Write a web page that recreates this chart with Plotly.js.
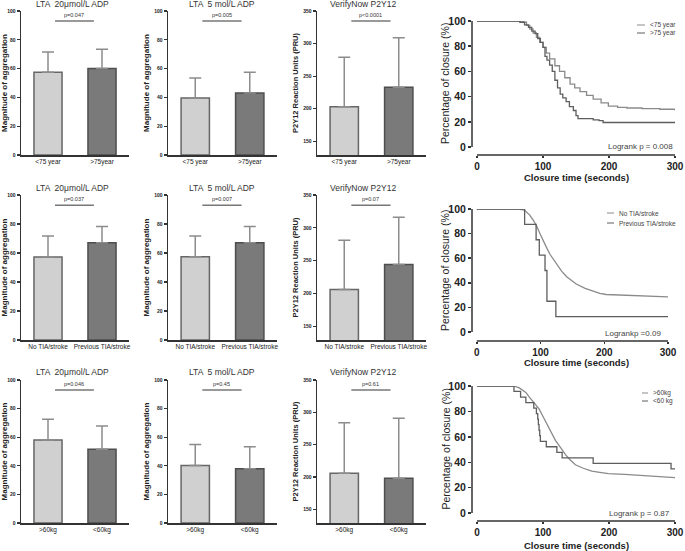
<!DOCTYPE html>
<html>
<head>
<meta charset="utf-8">
<script src="https://cdn.plot.ly/plotly-3.0.1.min.js"></script>
<style>body{margin:0;background:#fff}#fig{width:685px;height:551px}</style>
</head>
<body>
<div id="fig"></div>
<script>
// groups for each row of the figure
var ageGroups = ['<75 year', '>75year'];
var tiaGroups = ['No TIA/stroke', 'Previous TIA/stroke'];
var weightGroups = ['>60kg', '<60kg'];

var panelTitles = ['LTA  20\u03bcmol/L ADP', 'LTA  5 mol/L ADP', 'VerifyNow P2Y12'];

// mean and SD (upper whisker) per row
var lta20Mean = [[57.5, 60.0], [57.3, 67.0], [58.1, 51.6]];
var lta20Sd = [[14.0, 13.5], [14.4, 11.2], [14.5, 16.3]];
var lta5Mean = [[39.5, 43.0], [57.5, 67.1], [40.2, 37.9]];
var lta5Sd = [[14.0, 14.5], [14.2, 11.1], [14.7, 15.4]];
var pruMean = [[203, 233], [206, 244], [206, 198]];
var pruSd = [[76, 76], [75, 72], [78, 93]];

var pValues = [
    ['p=0.047', 'p=0.005', 'p<0.0001'],
    ['p=0.037', 'p=0.007', 'p=0.07'],
    ['p=0.046', 'p=0.45', 'p=0.61']
];

// Kaplan-Meier curves, closure time (s) vs percentage
var ageYoungT = [0, 65, 70, 75, 80, 85, 90, 95, 100, 105, 110, 118, 125, 133, 141, 148, 156, 166, 176, 188, 199, 213, 227, 250, 277, 300];
var ageYoungY = [100, 100, 99, 96.5, 93.5, 90.5, 87, 83, 79, 74.5, 70, 64.5, 60, 55, 50, 47, 44, 41, 38, 35, 32.5, 31.5, 31, 30.5, 30, 29];
var ageOldT = [0, 65, 72, 78, 83, 88, 92, 96, 100, 103, 106, 110, 114, 118, 122, 126, 130, 135, 140, 146, 150, 153, 170, 176, 185, 191, 300];
var ageOldY = [100, 99, 97, 95, 92, 90, 86, 83, 79, 72, 69, 65, 60, 53, 47, 42, 39, 36, 32, 29, 25, 22.5, 22.5, 21.5, 21, 19.5, 19.5];

var noTiaT = [0, 65, 75, 83, 89, 94, 99, 104, 110, 115, 120, 125, 133, 141, 148, 156, 170, 183, 193, 203, 235, 266, 300];
var noTiaY = [100, 100, 99, 95, 90.5, 86, 80, 74, 68, 63, 59, 55, 49.5, 45, 42, 39, 35.5, 33, 31.5, 30.5, 30, 29, 28.5];
var prevTiaT = [0, 75, 93, 98, 107, 110, 124, 300];
var prevTiaY = [100, 87.5, 75, 62.5, 50, 25, 12.5, 12.5];

var heavyT = [0, 56, 64, 74, 79, 84, 89, 94, 99, 104, 109, 114, 119, 124, 134, 141, 149, 160, 174, 186, 199, 224, 249, 275, 300];
var heavyY = [100, 100, 98.5, 95, 91.5, 88, 85, 82, 77, 72, 66.5, 61, 57, 53.5, 46, 42, 38, 35.5, 33, 32, 31, 30.5, 29.7, 29, 28];
var lightT = [0, 56, 66, 74, 86, 90, 92, 93, 94, 95, 96, 105, 121, 129, 176, 294, 300];
var lightY = [100, 95.7, 91.3, 87, 82.6, 78.3, 73.9, 69.6, 65.2, 60.9, 56.5, 52.2, 47.8, 43.5, 39.1, 34.8, 34.8];

var kmNames = [['<75 year', '>75 year'], ['No TIA/stroke', 'Previous TIA/stroke'], ['>60kg', '<60 kg']];
var kmLogrank = ['Logrank p = 0.008', 'Logrankp =0.09', 'Logrank p = 0.87'];

var W = 685, H = 551;
function px(x) { return x / W; }
function py(y) { return 1 - y / H; }

var groups = [ageGroups, tiaGroups, weightGroups];
var means = [lta20Mean, lta5Mean, pruMean];
var sds = [lta20Sd, lta5Sd, pruSd];
var kmT = [[ageYoungT, ageOldT], [noTiaT, prevTiaT], [heavyT, lightT]];
var kmY = [[ageYoungY, ageOldY], [noTiaY, prevTiaY], [heavyY, lightY]];

// pixel layout
var colX = [[21, 129], [168, 277], [317, 426]];
var rowY = [[11, 155], [195, 340], [380, 523]];
var kmX = [[472, 675], [472, 668], [472, 675]];
var kmYpx = [[21, 155], [209, 341], [386, 521]];
var kmYmin = [-6.3, -7.3, -6.2];
var kmXtitleY = [177, 362, 545];
var titleY = [4, 188, 372];
var titleX = [72, 222, 363];
var legendPos = [[637, 645, 648, 25, 33], [607, 614, 617, 213, 223], [642, 648, 651, 393, 401]];
var logrankPos = [[675, 147], [663, 333], [672, 513]];

var data = [];
var layout = {
    width: W, height: H,
    margin: {l: 0, r: 0, t: 0, b: 0},
    paper_bgcolor: '#fff',
    plot_bgcolor: 'rgba(0,0,0,0)',
    showlegend: false,
    font: {family: 'Liberation Sans, Arial, sans-serif', color: '#222'},
    annotations: [],
    shapes: []
};

for (var r = 0; r < 3; r++) {
    for (var c = 0; c < 4; c++) {
        var i = r * 4 + c + 1;
        var xn = 'x' + (i == 1 ? '' : i), yn = 'y' + (i == 1 ? '' : i);
        var xk = 'xaxis' + (i == 1 ? '' : i), yk = 'yaxis' + (i == 1 ? '' : i);
        if (c < 3) {
            data.push({
                type: 'bar', x: groups[r], y: means[c][r], xaxis: xn, yaxis: yn,
                width: 0.52,
                marker: {color: ['#d0d0d0', '#7a7a7a'], line: {color: ['#666', '#4e4e4e'], width: 1.5}},
                error_y: {type: 'data', symmetric: false, array: sds[c][r], arrayminus: [0, 0],
                          color: '#8c8c8c', thickness: 1.5, width: 6}
            });
            layout[xk] = {
                domain: [px(colX[c][0]), px(colX[c][1])], range: [-0.5, 1.5], anchor: yn,
                showline: true, linecolor: '#333', linewidth: 1.5, ticks: '',
                tickfont: {size: 6.5, color: '#222'}, showgrid: false, zeroline: false
            };
            var pru = (c == 2);
            layout[yk] = {
                domain: [py(rowY[r][1]), py(rowY[r][0])], anchor: xn,
                range: pru ? [129, 350] : [0, 100],
                tickvals: pru ? [150, 200, 250, 300, 350] : [0, 20, 40, 60, 80, 100],
                ticks: 'outside', ticklen: 3, tickwidth: 1.2, tickcolor: '#333',
                showline: true, linecolor: '#333', linewidth: 1.5,
                showgrid: false, zeroline: false,
                tickfont: {size: 5, weight: 'bold', color: '#222'},
                title: {text: pru ? 'P2Y12 Reaction Units (PRU)' : 'Magnitude of aggregation',
                        font: {size: pru ? 7.5 : 8, weight: 'bold', color: '#222'}, standoff: 3}
            };
            layout.annotations.push({
                xref: 'paper', yref: 'paper', x: px(titleX[c]), y: py(titleY[r]),
                text: panelTitles[c], showarrow: false, xanchor: 'center', yanchor: 'middle',
                font: {size: 8.5, color: '#333'}
            });
            layout.shapes.push({
                type: 'line', xref: xn + ' domain', yref: yn + ' domain',
                x0: 0.315, x1: 0.675, y0: 0.93, y1: 0.93,
                line: {color: '#777', width: 1.5}
            });
            layout.annotations.push({
                xref: xn + ' domain', yref: yn + ' domain', x: 0.495, y: 0.975,
                text: pValues[r][c], showarrow: false, xanchor: 'center', yanchor: 'middle',
                font: {size: 5.5, color: '#333'}
            });
        } else {
            var lineCols = ['#8a8a8a', '#5e5e5e'];
            for (var k = 0; k < 2; k++) {
                data.push({
                    type: 'scatter', mode: 'lines', x: kmT[r][k], y: kmY[r][k],
                    xaxis: xn, yaxis: yn, name: kmNames[r][k],
                    line: {color: lineCols[k], width: 1.3, shape: (k == 1 || r == 0) ? 'hv' : 'linear'}
                });
                var lp = legendPos[r];
                layout.shapes.push({
                    type: 'line', xref: 'paper', yref: 'paper',
                    x0: px(lp[0]), x1: px(lp[1]), y0: py(lp[3 + k]), y1: py(lp[3 + k]),
                    line: {color: lineCols[k], width: 1}
                });
                layout.annotations.push({
                    xref: 'paper', yref: 'paper', x: px(lp[2]), y: py(lp[3 + k]),
                    text: kmNames[r][k], showarrow: false, xanchor: 'left', yanchor: 'middle',
                    font: {size: 6.5, color: '#444'}
                });
            }
            layout[xk] = {
                domain: [px(kmX[r][0]), px(kmX[r][1])], range: [-7.6, 300], anchor: yn,
                tickvals: [0, 100, 200, 300], ticks: 'outside', ticklen: 2, tickwidth: 1.5, tickcolor: '#333',
                showline: false, showgrid: false, zeroline: false,
                tickfont: {size: 10, weight: 'bold', color: '#222'}
            };
            layout[yk] = {
                domain: [py(kmYpx[r][1]), py(kmYpx[r][0])], range: [kmYmin[r], 100], anchor: xn,
                tickvals: [0, 20, 40, 60, 80, 100], ticks: 'outside', ticklen: 3, tickwidth: 1.5, tickcolor: '#333',
                showline: false, showgrid: false, zeroline: false,
                tickfont: {size: 10.5, weight: 'bold', color: '#222'}
            };
            // axis titles placed as in the figure
            layout.annotations.push({
                xref: 'paper', yref: 'paper', x: px(576), y: py(kmXtitleY[r]),
                text: 'Closure time (seconds)', showarrow: false, xanchor: 'center', yanchor: 'middle',
                font: {size: 9.5, weight: 'bold', color: '#222'}
            });
            layout.annotations.push({
                xref: 'paper', yref: 'paper', x: px(445), y: py((kmYpx[r][0] + kmYpx[r][1] - 8) / 2),
                text: 'Percentage of closure (%)', showarrow: false, textangle: -90,
                xanchor: 'center', yanchor: 'middle',
                font: {size: 10.5, color: '#222'}
            });
            // offset axis lines
            layout.shapes.push({type: 'line', xref: xn + ' domain', yref: yn, x0: 0, x1: 0, y0: 0, y1: 100,
                                line: {color: '#333', width: 1.5}});
            layout.shapes.push({type: 'line', xref: xn, yref: yn + ' domain', x0: 0, x1: 300, y0: 0, y1: 0,
                                line: {color: '#333', width: 1.5}});
            layout.annotations.push({
                xref: 'paper', yref: 'paper', x: px(logrankPos[r][0]), y: py(logrankPos[r][1]),
                text: kmLogrank[r], showarrow: false, xanchor: 'right', yanchor: 'middle',
                font: {size: 8, color: '#444'}
            });
        }
    }
}

Plotly.newPlot('fig', data, layout, {staticPlot: true});
</script>
</body>
</html>
